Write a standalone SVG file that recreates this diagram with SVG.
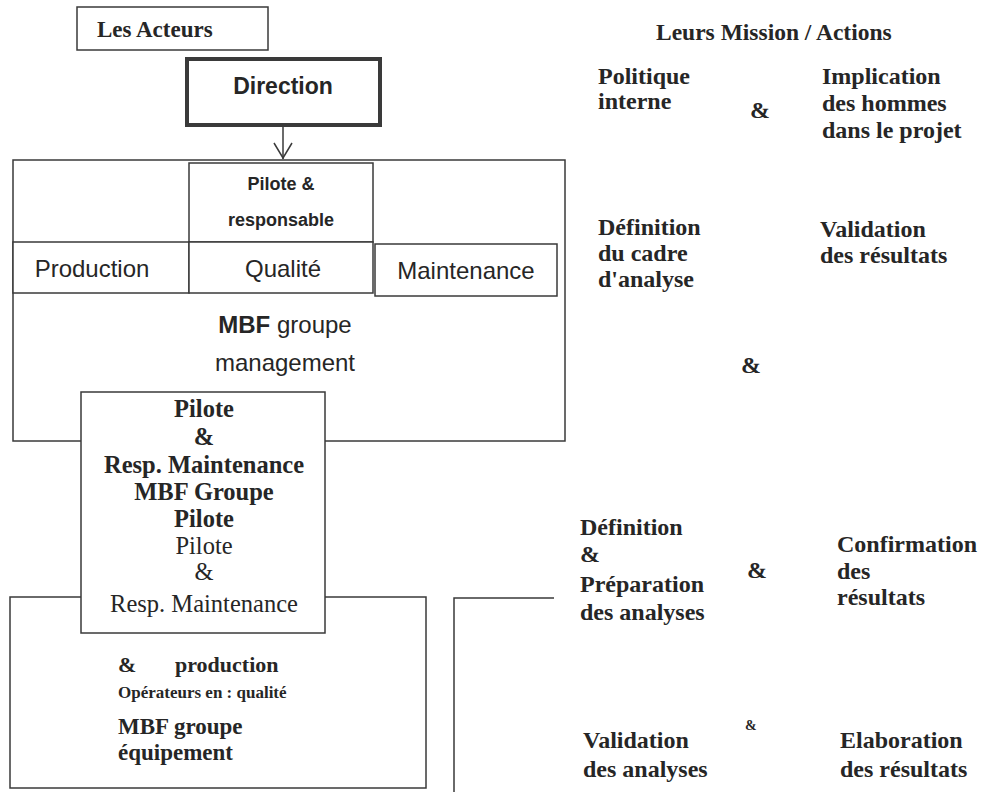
<svg xmlns="http://www.w3.org/2000/svg" width="982" height="792" viewBox="0 0 982 792">
<style>
.box{fill:#fff;stroke:#3a3a3a;stroke-width:1.5}
.serif{font-family:"Liberation Serif","Times New Roman",serif;fill:#262626}
.sans{font-family:"Liberation Sans",Arial,sans-serif;fill:#262626}
.b{font-weight:bold}
.c{text-anchor:middle}
.conn{fill:none;stroke:#3a3a3a;stroke-width:1.5}
</style>
<rect width="982" height="792" fill="#fff"/>

<g id="les-acteurs">
<rect class="box" x="77" y="7" width="191" height="43"/>
<text class="serif b" x="97" y="37" font-size="23">Les Acteurs</text>
</g>

<g id="direction">
<rect x="187" y="59" width="193" height="66" fill="#fff" stroke="#3a3a3a" stroke-width="4"/>
<text class="sans b c" x="283" y="94" font-size="23">Direction</text>
</g>

<g id="mbf-management">
<rect class="box" x="13" y="160" width="552" height="281"/>
<text class="sans c" x="285" y="333" font-size="24"><tspan font-weight="bold">MBF</tspan> groupe</text>
<text class="sans c" x="285" y="371" font-size="24">management</text>
</g>

<g id="pilote-responsable">
<rect class="box" x="189" y="163" width="184" height="79"/>
<text class="sans b c" x="281" y="190" font-size="18">Pilote &amp;</text>
<text class="sans b c" x="281" y="226" font-size="18">responsable</text>
</g>

<g id="production">
<rect class="box" x="13" y="242" width="176" height="51"/>
<text class="sans c" x="92" y="277" font-size="24">Production</text>
</g>

<g id="qualite">
<rect class="box" x="189" y="242" width="184" height="51"/>
<text class="sans c" x="283" y="277" font-size="24">Qualité</text>
</g>

<g id="maintenance">
<rect class="box" x="375" y="244" width="182" height="52"/>
<text class="sans c" x="466" y="279" font-size="24">Maintenance</text>
</g>

<g id="mbf-equipement">
<rect class="box" x="10" y="597" width="416" height="191"/>
<text class="serif b" x="118" y="672" font-size="22">&amp;</text>
<text class="serif b" x="175" y="672" font-size="22">production</text>
<text class="serif b" x="118" y="698" font-size="17">Opérateurs en : qualité</text>
<text class="serif b" x="118" y="734" font-size="23">MBF groupe</text>
<text class="serif b" x="118" y="760" font-size="23">équipement</text>
</g>

<g id="right-frame">
<path class="conn" d="M554 598 H454 V792"/>
</g>

<g id="mbf-groupe-pilote">
<rect class="box" x="81" y="392" width="244" height="241"/>
<text class="serif b c" x="204" y="417" font-size="24.5">Pilote</text>
<text class="serif b c" x="204" y="445" font-size="24.5">&amp;</text>
<text class="serif b c" x="204" y="473" font-size="24.5">Resp. Maintenance</text>
<text class="serif b c" x="204" y="500" font-size="24.5">MBF Groupe</text>
<text class="serif b c" x="204" y="527" font-size="24.5">Pilote</text>
<text class="serif c" x="204" y="554" font-size="24.5">Pilote</text>
<text class="serif c" x="204" y="580" font-size="24.5">&amp;</text>
<text class="serif c" x="204" y="612" font-size="24.5">Resp. Maintenance</text>
</g>

<g id="connectors">
<path class="conn" d="M283 127 V159"/>
<path class="conn" d="M274 143 L283 158 L292 143"/>
</g>

<g id="missions">
<text class="serif b" x="656" y="40" font-size="23.5">Leurs Mission / Actions</text>
<text class="serif b" x="598" y="84" font-size="24">Politique</text>
<text class="serif b" x="598" y="109" font-size="24">interne</text>
<text class="serif b" x="750" y="118" font-size="24">&amp;</text>
<text class="serif b" x="822" y="84" font-size="24">Implication</text>
<text class="serif b" x="822" y="111" font-size="24">des hommes</text>
<text class="serif b" x="822" y="138" font-size="24">dans le projet</text>

<text class="serif b" x="598" y="235" font-size="24">Définition</text>
<text class="serif b" x="598" y="261" font-size="24">du cadre</text>
<text class="serif b" x="598" y="287" font-size="24">d'analyse</text>
<text class="serif b" x="820" y="237" font-size="24">Validation</text>
<text class="serif b" x="820" y="263" font-size="24">des résultats</text>
<text class="serif b" x="741" y="373" font-size="24">&amp;</text>

<text class="serif b" x="580" y="535" font-size="24">Définition</text>
<text class="serif b" x="580" y="562" font-size="24">&amp;</text>
<text class="serif b" x="580" y="592" font-size="24">Préparation</text>
<text class="serif b" x="580" y="620" font-size="24" fill="#555">des analyses</text>
<text class="serif b" x="747" y="578" font-size="24">&amp;</text>
<text class="serif b" x="837" y="552" font-size="24">Confirmation</text>
<text class="serif b" x="837" y="579" font-size="24">des</text>
<text class="serif b" x="837" y="605" font-size="24">résultats</text>

<text class="serif b" x="745" y="730" font-size="14" fill="#555">&amp;</text>
<text class="serif b" x="583" y="748" font-size="24">Validation</text>
<text class="serif b" x="583" y="777" font-size="24">des analyses</text>
<text class="serif b" x="840" y="748" font-size="24">Elaboration</text>
<text class="serif b" x="840" y="777" font-size="24">des résultats</text>
</g>
</svg>
